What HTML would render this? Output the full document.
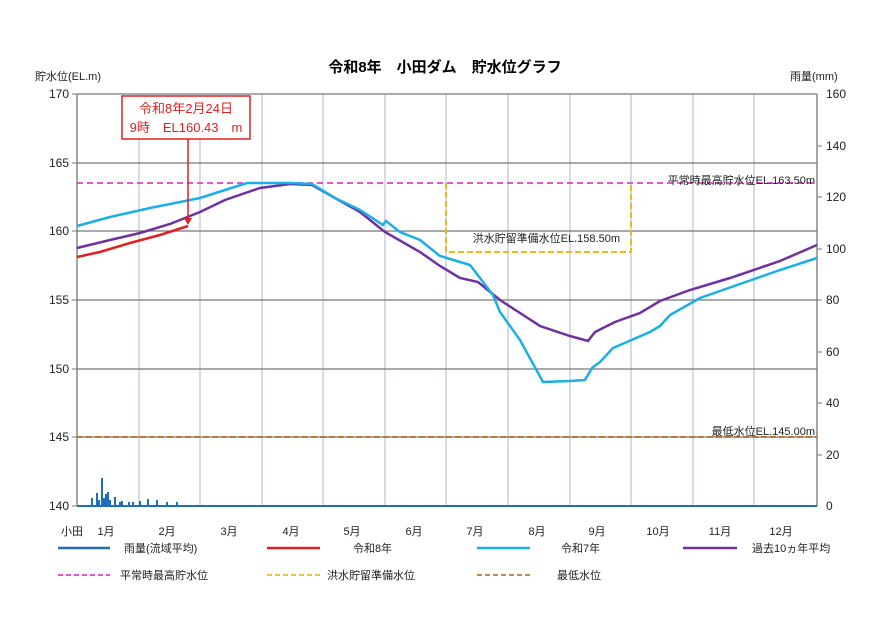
<!DOCTYPE html>
<html><head><meta charset="utf-8"><style>
body{margin:0;background:#fff;}
svg text{font-family:"Liberation Sans","Noto Sans CJK JP",sans-serif;}
</style></head><body>
<svg width="890" height="630" viewBox="0 0 890 630" xmlns="http://www.w3.org/2000/svg">
<rect width="890" height="630" fill="#fff"/>
<text x="445" y="72" font-size="15" font-weight="bold" text-anchor="middle" fill="#000">令和8年　小田ダム　貯水位グラフ</text>
<text x="35" y="80" font-size="11" fill="#222">貯水位(EL.m)</text>
<text x="790" y="80" font-size="11" fill="#222">雨量(mm)</text>
<!-- vertical grid -->
<g stroke="#c8d0dc" stroke-width="1.5">
<line x1="139" y1="94" x2="139" y2="506"/><line x1="200" y1="94" x2="200" y2="506"/><line x1="262" y1="94" x2="262" y2="506"/><line x1="323" y1="94" x2="323" y2="506"/><line x1="385" y1="94" x2="385" y2="506"/><line x1="446" y1="94" x2="446" y2="506"/><line x1="508" y1="94" x2="508" y2="506"/><line x1="570" y1="94" x2="570" y2="506"/><line x1="631" y1="94" x2="631" y2="506"/><line x1="693" y1="94" x2="693" y2="506"/><line x1="754" y1="94" x2="754" y2="506"/>
</g>
<g stroke="#777" stroke-width="1.3">
<line x1="77" y1="94" x2="817" y2="94"/><line x1="77" y1="163" x2="817" y2="163"/><line x1="77" y1="231" x2="817" y2="231"/><line x1="77" y1="300" x2="817" y2="300"/><line x1="77" y1="369" x2="817" y2="369"/><line x1="77" y1="437" x2="817" y2="437"/>
<line x1="77" y1="94" x2="77" y2="506"/><line x1="817" y1="94" x2="817" y2="506"/>
</g>
<g stroke="#777"><line x1="72" y1="94" x2="77" y2="94"/><line x1="72" y1="163" x2="77" y2="163"/><line x1="72" y1="231" x2="77" y2="231"/><line x1="72" y1="300" x2="77" y2="300"/><line x1="72" y1="369" x2="77" y2="369"/><line x1="72" y1="437" x2="77" y2="437"/><line x1="72" y1="506" x2="77" y2="506"/>
<line x1="817" y1="146" x2="822" y2="146"/><line x1="817" y1="197" x2="822" y2="197"/><line x1="817" y1="249" x2="822" y2="249"/><line x1="817" y1="300" x2="822" y2="300"/><line x1="817" y1="352" x2="822" y2="352"/><line x1="817" y1="403" x2="822" y2="403"/><line x1="817" y1="455" x2="822" y2="455"/></g>
<g font-size="12" fill="#222" text-anchor="end">
<text x="69" y="98">170</text><text x="69" y="167">165</text><text x="69" y="235">160</text><text x="69" y="304">155</text><text x="69" y="373">150</text><text x="69" y="441">145</text><text x="69" y="510">140</text></g>
<g font-size="12" fill="#222">
<text x="826" y="98">160</text><text x="826" y="150">140</text><text x="826" y="201">120</text><text x="826" y="253">100</text><text x="826" y="304">80</text><text x="826" y="356">60</text><text x="826" y="407">40</text><text x="826" y="459">20</text><text x="826" y="510">0</text></g>
<!-- reference lines -->
<line x1="77" y1="183" x2="817" y2="183" stroke="#e040c8" stroke-width="1.8" stroke-dasharray="6,4"/>
<line x1="77" y1="437" x2="817" y2="437" stroke="#b87838" stroke-width="2" stroke-dasharray="6,3"/>
<polyline points="446,183 446,252 631,252 631,183" fill="none" stroke="#f0b820" stroke-width="2" stroke-dasharray="6,3"/>
<text x="815" y="184" font-size="11" text-anchor="end" fill="#222">平常時最高貯水位EL.163.50m</text>
<text x="620" y="242" font-size="11" text-anchor="end" fill="#222">洪水貯留準備水位EL.158.50m</text>
<text x="815" y="435" font-size="11" text-anchor="end" fill="#222">最低水位EL.145.00m</text>
<!-- rain -->
<g stroke="#1f6fb8" stroke-width="2">
<line x1="92" y1="506" x2="92" y2="498"/><line x1="97" y1="506" x2="97" y2="493"/><line x1="99" y1="506" x2="99" y2="500"/><line x1="102" y1="506" x2="102" y2="478"/><line x1="104" y1="506" x2="104" y2="498"/><line x1="106" y1="506" x2="106" y2="494"/><line x1="108" y1="506" x2="108" y2="492"/><line x1="110" y1="506" x2="110" y2="500"/><line x1="115" y1="506" x2="115" y2="497"/><line x1="120" y1="506" x2="120" y2="502"/><line x1="122" y1="506" x2="122" y2="501"/><line x1="129" y1="506" x2="129" y2="502"/><line x1="133" y1="506" x2="133" y2="502"/><line x1="140" y1="506" x2="140" y2="501"/><line x1="148" y1="506" x2="148" y2="499"/><line x1="157" y1="506" x2="157" y2="500"/><line x1="167" y1="506" x2="167" y2="502"/><line x1="177" y1="506" x2="177" y2="502"/></g>
<line x1="77" y1="506" x2="817" y2="506" stroke="#1f6fb8" stroke-width="2"/>
<!-- series -->
<polyline fill="none" stroke="#7030a0" stroke-width="2.5" points="77,248 110,240 140,233 170,224 200,212 225,200 260,188 290,184 312,185 335,198 360,212 385,232 420,252 440,266 460,278 478,282 500,300 520,313 540,326 570,336 588,341 595,332 615,322 640,313 660,301 690,290 730,278 780,261 817,245"/>
<polyline fill="none" stroke="#1ab0e6" stroke-width="2.5" points="77,226 110,217 150,208 180,202 200,198 225,190 247,183 290,183 312,184 335,198 360,210 383,225 386,221 400,232 420,240 440,256 470,265 493,295 500,312 520,340 543,382 570,381 585,380 592,368 600,362 613,348 650,332 660,326 670,315 700,298 740,284 780,270 817,258"/>
<polyline fill="none" stroke="#e02020" stroke-width="2.5" points="77,257 100,252 130,243 160,235 188,226"/>
<!-- annotation -->
<rect x="122" y="96" width="128" height="43" fill="#fff" stroke="#e02020" stroke-width="1.5"/>
<text x="186" y="113" font-size="13" fill="#e02020" text-anchor="middle">令和8年2月24日</text>
<text x="186" y="132" font-size="13" fill="#e02020" text-anchor="middle">9時　EL160.43　m</text>
<line x1="188" y1="139" x2="188" y2="219" stroke="#e02020" stroke-width="1.5"/>
<polygon points="184,218 192,218 188,225" fill="#e02020"/>
<!-- x labels -->
<g font-size="11" fill="#222" text-anchor="middle">
<text x="72" y="535">小田</text><text x="106" y="535">1月</text><text x="167" y="535">2月</text><text x="229" y="535">3月</text><text x="291" y="535">4月</text><text x="352" y="535">5月</text><text x="414" y="535">6月</text><text x="475" y="535">7月</text><text x="537" y="535">8月</text><text x="597" y="535">9月</text><text x="658" y="535">10月</text><text x="720" y="535">11月</text><text x="781" y="535">12月</text></g>
<!-- legend -->
<g stroke-width="2.5">
<line x1="58" y1="548" x2="110" y2="548" stroke="#1f6fb8"/><line x1="267" y1="548" x2="320" y2="548" stroke="#e02020"/><line x1="477" y1="548" x2="530" y2="548" stroke="#1ab0e6"/><line x1="683" y1="548" x2="737" y2="548" stroke="#7030a0"/></g>
<g stroke-width="1.8" stroke-dasharray="5,3">
<line x1="58" y1="575" x2="110" y2="575" stroke="#e040c8"/><line x1="267" y1="575" x2="320" y2="575" stroke="#f0b820"/><line x1="477" y1="575" x2="530" y2="575" stroke="#b87838"/></g>
<g font-size="11" fill="#222">
<text x="124" y="552">雨量(流域平均)</text><text x="353" y="552">令和8年</text><text x="561" y="552">令和7年</text><text x="752" y="552">過去10ヵ年平均</text>
<text x="120" y="579">平常時最高貯水位</text><text x="327" y="579">洪水貯留準備水位</text><text x="557" y="579">最低水位</text></g>
</svg>
</body></html>
